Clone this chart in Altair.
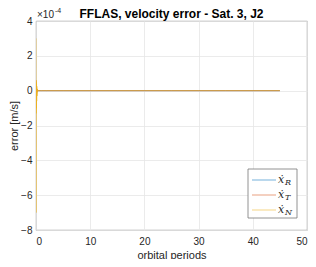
import altair as alt
import pandas as pd

# time in orbital periods
t = [0, 0.01, 0.02, 0.04, 0.06, 0.08, 0.1, 0.13, 0.16, 0.2, 0.25, 0.3, 0.4, 0.5,
     1, 2, 5, 10, 15, 20, 25, 30, 35, 40, 45]
# velocity errors in units of 1e-4 m/s
err_R = [0.3, -0.4, 0.15, -0.2, 0.1, -0.1, 0.05, -0.05, 0.02, -0.02, 0.01, 0, 0, 0,
         0, 0, 0, 0, 0, 0, 0, 0, 0, 0, 0]
err_T = [0.6, -1.0, 0.3, -0.5, 0.25, -0.3, 0.15, -0.15, 0.08, -0.05, 0.03, -0.01, 0, 0,
         0, 0, 0, 0, 0, 0, 0, 0, 0, 0, 0]
err_N = [3.0, -7.0, 0.6, -1.3, 0.5, -1.0, 0.4, -0.6, 0.25, -0.3, 0.1, -0.05, 0.02, 0,
         0, 0, 0, 0, 0, 0, 0, 0, 0, 0, 0]

series_names = ["R", "T", "N"]
colors = ["#0072BD", "#D95319", "#EDB120"]
x_ticks = [0, 10, 20, 30, 40, 50]
y_ticks = [-8, -6, -4, -2, 0, 2, 4]
title_text = "FFLAS, velocity error - Sat. 3, J2"

rows = []
for name, vals in zip(series_names, [err_R, err_T, err_N]):
    for ti, v in zip(t, vals):
        rows.append({"t": ti, "err": v, "series": name})
df = pd.DataFrame(rows)

W, H = 271, 209
FONT = "Liberation Sans"

xenc = alt.X("t:Q", scale=alt.Scale(domain=[0, 50], nice=False),
             axis=alt.Axis(values=x_ticks, title="orbital periods", format="d"))
yenc = alt.Y("err:Q", scale=alt.Scale(domain=[-8, 4], nice=False),
             axis=alt.Axis(values=y_ticks, title="error [m/s]", format="d"))

layers = []
for name, col in zip(series_names, colors):
    layers.append(
        alt.Chart(df).transform_filter(alt.datum.series == name)
        .mark_line(strokeWidth=0.8, color=col, opacity=0.75, clip=True)
        .encode(x=xenc, y=yenc)
    )

one = pd.DataFrame({"a": [0]})
# title as text
title_mark = alt.Chart(one).mark_text(align="center", baseline="alphabetic", fontSize=12,
                                      fontWeight="bold", font=FONT, color="#000000").encode(
    x=alt.value(W / 2), y=alt.value(-3), text=alt.value(title_text))
# exponent label
exp_base = alt.Chart(one).mark_text(align="left", baseline="alphabetic", fontSize=10,
                                    font=FONT, color="#262626").encode(
    x=alt.value(1), y=alt.value(-3), text=alt.value("×10"))
exp_sup = alt.Chart(one).mark_text(align="left", baseline="alphabetic", fontSize=7,
                                   font=FONT, color="#262626").encode(
    x=alt.value(19), y=alt.value(-8), text=alt.value("-4"))

# legend (manual)
leg_box = alt.Chart(one).mark_rect(fill="white", stroke="#777777", strokeWidth=0.8).encode(
    x=alt.value(212), x2=alt.value(261), y=alt.value(148), y2=alt.value(197))
leg_df = pd.DataFrame({"series": series_names, "color": colors,
                       "yy": [159, 174, 189]})
leg_lines = alt.Chart(leg_df).mark_rule(strokeWidth=1.2, opacity=0.45).encode(
    x=alt.value(216), x2=alt.value(240), y=alt.Y("yy:Q", scale=None),
    color=alt.Color("color:N", scale=None))
leg_x = alt.Chart(leg_df).mark_text(align="left", baseline="middle", fontSize=11,
                                    font="DejaVu Serif", fontStyle="italic",
                                    color="#262626").encode(
    x=alt.value(242), y=alt.Y("yy:Q", scale=None), text=alt.value("ẋ"))
leg_sub = alt.Chart(leg_df).transform_calculate(ys="datum.yy + 3").mark_text(
    align="left", baseline="middle", fontSize=8, font="DejaVu Serif",
    fontStyle="italic", color="#262626").encode(
    x=alt.value(249), y=alt.Y("ys:Q", scale=None), text="series:N")

chart = alt.layer(*layers, title_mark, exp_base, exp_sup, leg_box, leg_lines, leg_x,
                  leg_sub).properties(
    width=W, height=H,
    autosize="none",
    padding={"left": 28, "top": 13, "right": 1, "bottom": 29},
).configure_view(stroke="#777777", strokeWidth=0.8).configure_axis(
    labelFont=FONT, labelFontSize=10, labelColor="#262626",
    titleFont=FONT, titleFontSize=11, titleFontWeight="normal", titleColor="#262626",
    domain=False, ticks=False, gridColor="#e6e6e6", gridWidth=0.8,
).configure_axisX(labelPadding=6, titlePadding=3).configure_axisY(labelPadding=4,
                                                                  titlePadding=1)

chart.save("out.html", embed_options={"renderer": "svg", "actions": False})
